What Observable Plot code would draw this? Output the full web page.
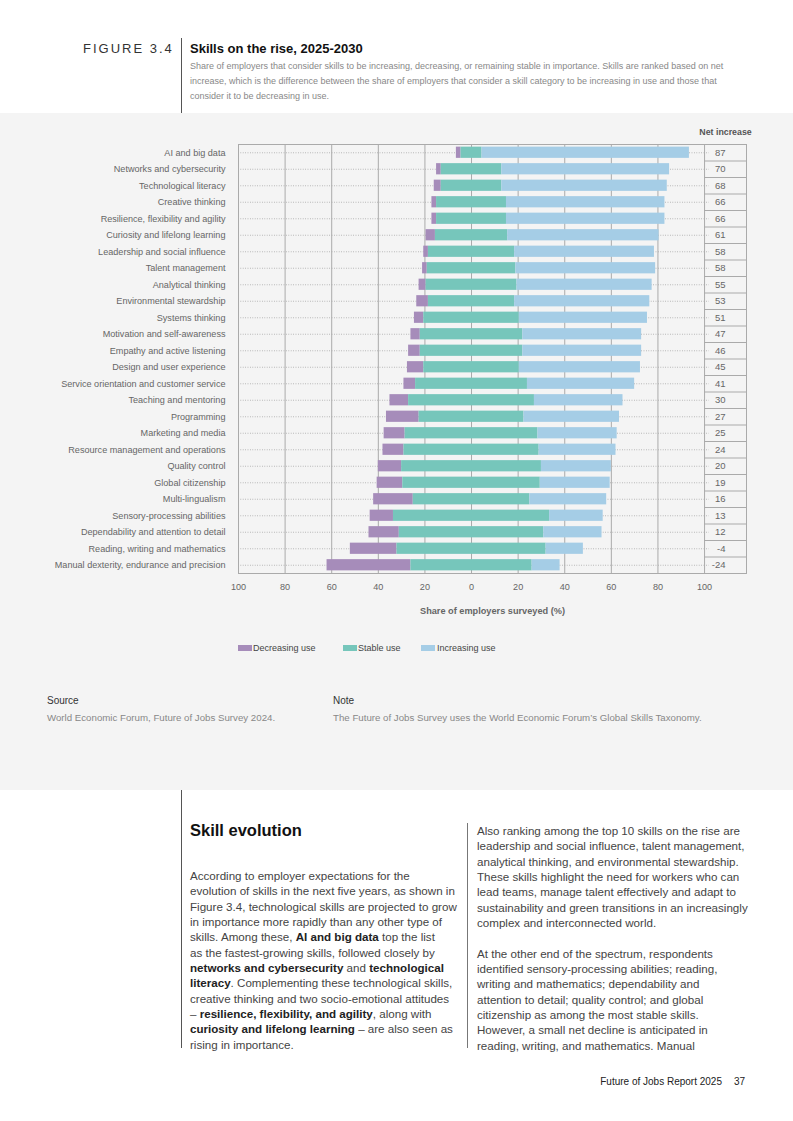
<!DOCTYPE html>
<html>
<head>
<meta charset="utf-8">
<script src="https://cdn.jsdelivr.net/npm/d3@7"></script>
<script src="https://cdn.jsdelivr.net/npm/@observablehq/plot@0.6"></script>
<style>
  html, body { margin: 0; padding: 0; background: #fff; }
  body { width: 793px; height: 1121px; position: relative; overflow: hidden;
         font-family: "Liberation Sans", Arial, Helvetica, sans-serif; }
  .abs { position: absolute; white-space: nowrap; }
  .band { position: absolute; left: 0; top: 113px; width: 793px; height: 677px; background: #f4f4f4; }
  .vline { position: absolute; width: 1px; background: #555; }
  .body-text { font-size: 11.6px; line-height: 15.35px; color: #444; }
  .body-text b { color: #222; }
  .sw { position: absolute; width: 14px; height: 6px; }
  .lg { position: absolute; font-size: 9px; color: #444; white-space: nowrap; }
</style>
</head>
<body>
<div class="band"></div>

<div class="vline" style="left:181px; top:38px; height:75px;"></div>
<div class="abs" style="left:83px; top:41px; font-size:13px; letter-spacing:2px; color:#333;">FIGURE 3.4</div>
<div class="abs" style="left:190px; top:41px; font-size:13px; font-weight:bold; color:#111;">Skills on the rise, 2025-2030</div>
<div class="abs" style="left:190px; top:58.5px; font-size:9px; line-height:15px; color:#888;">Share of employers that consider skills to be increasing, decreasing, or remaining stable in importance. Skills are ranked based on net<br>increase, which is the difference between the share of employers that consider a skill category to be increasing in use and those that<br>consider it to be decreasing in use.</div>

<div id="chart" style="position:absolute; left:0; top:120px;"></div>

<div class="sw" style="left:238px; top:645px; background:#a68cba;"></div>
<div class="lg" style="left:253px; top:642.5px;">Decreasing use</div>
<div class="sw" style="left:343px; top:645px; background:#76c6bb;"></div>
<div class="lg" style="left:358px; top:642.5px;">Stable use</div>
<div class="sw" style="left:421px; top:645px; background:#a5cde6;"></div>
<div class="lg" style="left:437px; top:642.5px;">Increasing use</div>

<div class="abs" style="left:47px; top:695px; font-size:10px; color:#333;">Source</div>
<div class="abs" style="left:47px; top:712px; font-size:9.7px; color:#888;">World Economic Forum, Future of Jobs Survey 2024.</div>
<div class="abs" style="left:333px; top:695px; font-size:10px; color:#333;">Note</div>
<div class="abs" style="left:333px; top:712px; font-size:9.7px; color:#888;">The Future of Jobs Survey uses the World Economic Forum’s Global Skills Taxonomy.</div>

<div class="vline" style="left:181px; top:790px; height:258px;"></div>
<div class="vline" style="left:467px; top:823px; height:225px; background:#777;"></div>
<div class="abs" style="left:190px; top:821px; font-size:16.5px; font-weight:bold; color:#111;">Skill evolution</div>
<div class="abs body-text" style="left:190px; top:868px;">According to employer expectations for the<br>evolution of skills in the next five years, as shown in<br>Figure 3.4, technological skills are projected to grow<br>in importance more rapidly than any other type of<br>skills. Among these, <b>AI and big data</b> top the list<br>as the fastest-growing skills, followed closely by<br><b>networks and cybersecurity</b> and <b>technological</b><br><b>literacy</b>. Complementing these technological skills,<br>creative thinking and two socio-emotional attitudes<br>– <b>resilience, flexibility, and agility</b>, along with<br><b>curiosity and lifelong learning</b> – are also seen as<br>rising in importance.</div>
<div class="abs body-text" style="left:477px; top:823px;">Also ranking among the top 10 skills on the rise are<br>leadership and social influence, talent management,<br>analytical thinking, and environmental stewardship.<br>These skills highlight the need for workers who can<br>lead teams, manage talent effectively and adapt to<br>sustainability and green transitions in an increasingly<br>complex and interconnected world.<br>&nbsp;<br>At the other end of the spectrum, respondents<br>identified sensory-processing abilities; reading,<br>writing and mathematics; dependability and<br>attention to detail; quality control; and global<br>citizenship as among the most stable skills.<br>However, a small net decline is anticipated in<br>reading, writing, and mathematics. Manual</div>

<div class="abs" style="left:540px; top:1075.5px; width:182px; text-align:right; font-size:10px; color:#222;">Future of Jobs Report 2025</div>
<div class="abs" style="left:734px; top:1075.5px; font-size:10px; color:#222;">37</div>

<script>
// ---------- data ----------
const skills = [
  "AI and big data",
  "Networks and cybersecurity",
  "Technological literacy",
  "Creative thinking",
  "Resilience, flexibility and agility",
  "Curiosity and lifelong learning",
  "Leadership and social influence",
  "Talent management",
  "Analytical thinking",
  "Environmental stewardship",
  "Systems thinking",
  "Motivation and self-awareness",
  "Empathy and active listening",
  "Design and user experience",
  "Service orientation and customer service",
  "Teaching and mentoring",
  "Programming",
  "Marketing and media",
  "Resource management and operations",
  "Quality control",
  "Global citizenship",
  "Multi-lingualism",
  "Sensory-processing abilities",
  "Dependability and attention to detail",
  "Reading, writing and mathematics",
  "Manual dexterity, endurance and precision"
];
const decreasing = [2, 2, 3, 2, 2, 4, 2, 2, 3, 5, 4, 4, 5, 7, 5, 8, 14, 9, 9, 10, 11, 17, 10, 13, 20, 36];
const stable     = [9, 26, 26, 30, 30, 31, 37, 38, 39, 37, 41, 44, 44, 41, 48, 54, 45, 57, 58, 60, 59, 50, 67, 62, 64, 52];
const increasing = [89, 72, 71, 68, 68, 65, 60, 60, 58, 58, 55, 51, 51, 52, 46, 38, 41, 34, 33, 30, 30, 33, 23, 25, 16, 12];
const netIncrease = [87, 70, 68, 66, 66, 61, 58, 58, 55, 53, 51, 47, 46, 45, 41, 30, 27, 25, 24, 20, 19, 16, 13, 12, -4, -24];
const seriesNames = ["Decreasing use", "Stable use", "Increasing use"];
const seriesColors = ["#a68cba", "#76c6bb", "#a5cde6"];
const xTicks = [-100, -80, -60, -40, -20, 0, 20, 40, 60, 80, 100];
const axisTitle = "Share of employers surveyed (%)";
const netTitle = "Net increase";

// scale extents: share axis -100..100, plus a column for the net-increase box
const X_MIN = -100, X_MAX = 100, NET_MAX = 118;

// ---------- build tables ----------
const rows = skills.map((s, i) => ({skill: s, net: netIncrease[i]}));
const segs = skills.flatMap((s, i) => {
  const h = stable[i] / 2;
  return [
    {skill: s, type: seriesNames[0], x1: -h - decreasing[i], x2: -h},
    {skill: s, type: seriesNames[1], x1: -h, x2: h},
    {skill: s, type: seriesNames[2], x1: h, x2: h + increasing[i]}
  ];
});

const W = 793, H = 505, mL = 238, mR = 47, mT = 24, mB = 52;
const step = (H - mT - mB) / skills.length;

const chart = Plot.plot({
  width: W, height: H,
  marginLeft: mL, marginRight: mR, marginTop: mT, marginBottom: mB,
  style: {fontFamily: '"Liberation Sans", Arial, sans-serif', fontSize: "9.1px", color: "#666", background: "transparent", overflow: "visible"},
  x: {domain: [X_MIN, NET_MAX], ticks: xTicks, tickFormat: d => Math.abs(d), tickSize: 0, tickPadding: 10, label: null},
  y: {domain: skills, paddingInner: 0.32, paddingOuter: 0.16, round: false, tickSize: 0, tickPadding: 13, label: null},
  color: {domain: seriesNames, range: seriesColors},
  marks: [
    Plot.ruleY(skills, {y: d => d, x1: X_MIN, x2: X_MAX + 2, stroke: "#9a9a9a", strokeWidth: 0.8, strokeDasharray: "0.8,1.6"}),
    Plot.ruleX(xTicks, {stroke: "#aaa", strokeWidth: 1}),
    Plot.barX(segs, {y: "skill", x1: "x1", x2: "x2", fill: "type"}),
    Plot.frame({stroke: "#aaa"}),
    Plot.ruleY(skills.slice(0, -1), {y: d => d, x1: X_MAX, x2: NET_MAX, dy: step / 2, stroke: "#aaa"}),
    Plot.text(rows, {y: "skill", text: d => String(d.net), frameAnchor: "right", dx: -21, fontSize: 9.5, fill: "#666"}),
    Plot.text([netTitle], {text: d => d, frameAnchor: "top-right", dx: -21, dy: -12, textAnchor: "middle", lineAnchor: "middle", fontWeight: "bold", fontSize: 8.8, fill: "#555"}),
    Plot.text([axisTitle], {text: d => d, frameAnchor: "bottom", dy: 38, lineAnchor: "middle", fontWeight: "bold", fontSize: 9.2, fill: "#666"})
  ]
});
document.getElementById("chart").appendChild(chart);
</script>
</body>
</html>
